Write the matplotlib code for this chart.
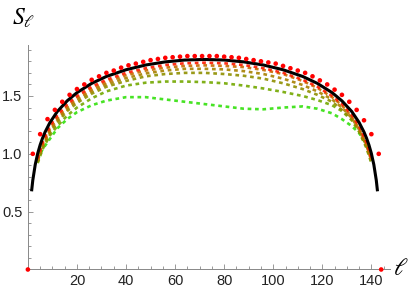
import numpy as np
import matplotlib
matplotlib.use('Agg')
import matplotlib.pyplot as plt
from matplotlib.ticker import MultipleLocator

# black curve
black_l = [1.5, 2, 3, 4, 5, 6, 7, 9, 12, 16, 20, 26, 32, 40, 48, 56, 64, 72,
           80, 88, 96, 104, 112, 118, 124, 128, 132, 135, 137, 138, 139, 140, 141, 142, 142.5]
black_s = [0.676, 0.772, 0.907, 1.003, 1.077, 1.137, 1.188, 1.271, 1.366, 1.458, 1.529, 1.609, 1.669,
           1.727, 1.768, 1.795, 1.811, 1.816, 1.811, 1.795, 1.768, 1.727, 1.669, 1.609, 1.529,
           1.458, 1.366, 1.271, 1.188, 1.137, 1.077, 1.003, 0.907, 0.772, 0.676]

# red points sticking out above the black curve
red_l = [0, 2, 5, 8, 11, 14, 17, 20, 23, 26, 29, 32, 35, 38, 41, 44, 47, 50, 53, 56, 59, 62, 65, 68,
         71, 74, 77, 80, 83, 86, 89, 92, 95, 98, 101, 104, 107, 110, 113, 116, 119, 122, 125, 128,
         131, 134, 137, 140, 143, 144]
red_s = [0.0, 1.00, 1.17, 1.30, 1.38, 1.45, 1.51, 1.56, 1.60, 1.64, 1.67, 1.70, 1.72, 1.745, 1.765,
         1.78, 1.795, 1.81, 1.82, 1.83, 1.835, 1.84, 1.845, 1.845, 1.845, 1.845, 1.845, 1.84, 1.835,
         1.83, 1.82, 1.81, 1.80, 1.79, 1.78, 1.76, 1.74, 1.72, 1.70, 1.67, 1.635, 1.60, 1.555, 1.51,
         1.45, 1.38, 1.29, 1.17, 1.00, 0.0]

# dotted bands, from red to green
band_l = [4, 6, 9, 12, 16, 20, 26, 32, 40, 48, 56, 64, 72, 80, 88, 96, 104, 112, 118, 124, 128,
          132, 135, 138, 140]
band1 = [0.96, 1.10, 1.24, 1.335, 1.43, 1.50, 1.58, 1.64, 1.70, 1.74, 1.768, 1.783, 1.788, 1.783,
         1.768, 1.74, 1.70, 1.64, 1.58, 1.50, 1.43, 1.335, 1.24, 1.10, 0.96]
band2 = [0.95, 1.08, 1.22, 1.31, 1.41, 1.48, 1.56, 1.62, 1.68, 1.72, 1.745, 1.76, 1.765, 1.76,
         1.75, 1.725, 1.69, 1.63, 1.57, 1.49, 1.42, 1.32, 1.22, 1.08, 0.95]
band3 = [0.94, 1.07, 1.20, 1.29, 1.39, 1.46, 1.54, 1.60, 1.655, 1.695, 1.72, 1.735, 1.735, 1.73,
         1.715, 1.69, 1.65, 1.595, 1.54, 1.47, 1.40, 1.31, 1.21, 1.07, 0.94]
band4 = [0.93, 1.06, 1.18, 1.27, 1.37, 1.44, 1.52, 1.58, 1.63, 1.67, 1.69, 1.70, 1.70, 1.69,
         1.675, 1.65, 1.61, 1.56, 1.51, 1.45, 1.38, 1.30, 1.20, 1.06, 0.93]
band5 = [0.92, 1.04, 1.16, 1.24, 1.33, 1.40, 1.48, 1.54, 1.59, 1.615, 1.625, 1.625, 1.62, 1.61,
         1.59, 1.565, 1.535, 1.50, 1.465, 1.42, 1.37, 1.29, 1.19, 1.05, 0.92]
band6 = [0.95, 1.04, 1.13, 1.22, 1.30, 1.36, 1.42, 1.46, 1.49, 1.49, 1.47, 1.45, 1.43, 1.41,
         1.39, 1.385, 1.40, 1.41, 1.39, 1.35, 1.30, 1.24, 1.18, 1.08, 0.98]
bands = [band1, band2, band3, band4, band5, band6]
band_colors = [(1.0, 0.1, 0.0), (0.78, 0.42, 0.0), (0.66, 0.5, 0.0), (0.56, 0.56, 0.0),
               (0.45, 0.66, 0.0), (0.2, 0.88, 0.05)]

plt.rcParams['mathtext.fontset'] = 'stix'
fig = plt.figure(figsize=(4.15, 2.91), dpi=100)
ax = fig.add_axes([0.0672, 0.0739, 0.8726, 0.7711])

for s, c in zip(bands[::-1], band_colors[::-1]):
    ax.plot(band_l, s, color=c, lw=1.9, ls=(0, (1.4, 1.4)), alpha=0.9)
ax.plot(black_l, black_s, color='black', lw=2.2, solid_capstyle='butt')
ax.scatter(red_l, red_s, s=11, color='red', edgecolors='none', zorder=5, clip_on=False)

ax.set_xlim(0, 147.6)
ax.set_ylim(0, 1.94)
for sp in ['top', 'right']:
    ax.spines[sp].set_visible(False)
for sp in ['left', 'bottom']:
    ax.spines[sp].set_color('#888888')
    ax.spines[sp].set_linewidth(0.7)
ax.xaxis.set_minor_locator(MultipleLocator(5))
ax.yaxis.set_minor_locator(MultipleLocator(0.1))
ax.set_xticks([20, 40, 60, 80, 100, 120, 140])
ax.set_yticks([0.5, 1.0, 1.5])
ax.set_yticklabels(['0.5', '1.0', '1.5'])
ax.tick_params(which='both', direction='in', color='#888888', width=0.6,
               labelsize=10.5, labelcolor='#222222')
ax.tick_params(axis='x', which='major', pad=3)
ax.tick_params(axis='y', which='major', pad=4)
ax.tick_params(which='major', length=3.5)
ax.tick_params(which='minor', length=2)
for t in ax.get_xticklabels() + ax.get_yticklabels():
    t.set_fontfamily('Liberation Sans')

fig.text(0.058, 0.938, r'$S_\ell$', fontsize=17, ha='center', va='center')
fig.text(0.966, 0.08, r'$\ell$', fontsize=17, ha='center', va='center')

fig.savefig('out.png', dpi=100)
